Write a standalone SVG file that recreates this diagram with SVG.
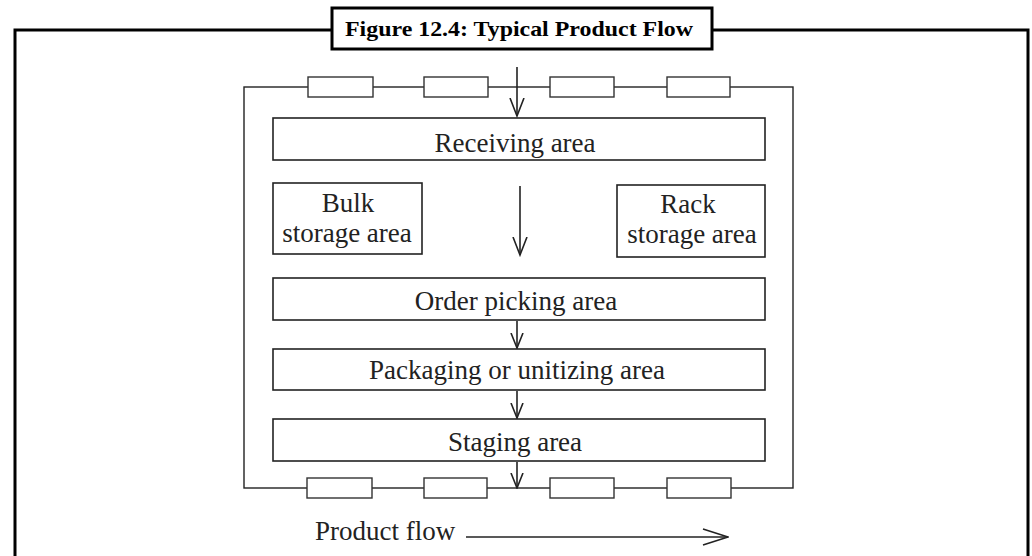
<svg xmlns="http://www.w3.org/2000/svg" width="1032" height="556" viewBox="0 0 1032 556">
<style>
.frame{fill:none;stroke:#000;stroke-width:3}
.box{fill:#fff;stroke:#222;stroke-width:1.6}
.dock{fill:#fff;stroke:#333;stroke-width:1.4}
.wall{fill:none;stroke:#222;stroke-width:1.4}
.lbl{font-family:"Liberation Serif","Times New Roman",serif;font-size:27px;fill:#222;text-anchor:middle}
.title{font-family:"Liberation Serif","Times New Roman",serif;font-weight:bold;font-size:21px;fill:#000;text-anchor:middle}
.conn{fill:none;stroke:#222;stroke-width:1.6}
</style>
<defs>
<marker id="ah" markerWidth="20" markerHeight="16" refX="18" refY="8" orient="auto" markerUnits="userSpaceOnUse" viewBox="0 0 20 16">
<path d="M0,1 L18,8 L0,15" fill="none" stroke="#222" stroke-width="1.6"/>
</marker>
<marker id="ahs" markerWidth="16" markerHeight="14" refX="15" refY="7" orient="auto" markerUnits="userSpaceOnUse" viewBox="0 0 16 14">
<path d="M0,1 L15,7 L0,13" fill="none" stroke="#222" stroke-width="1.6"/>
</marker>
<marker id="ahr" markerWidth="27" markerHeight="18" refX="26" refY="9" orient="auto" markerUnits="userSpaceOnUse" viewBox="0 0 27 18">
<path d="M1,1 L26,9 L1,17" fill="none" stroke="#222" stroke-width="1.6"/>
</marker>
</defs>
<rect width="1032" height="556" fill="#fff"/>
<g id="frame">
<path class="frame" d="M15,560 V30 H332 M712,30 H1028 V560"/>
</g>
<g id="title">
<rect x="332" y="8" width="380" height="41" fill="#fff" stroke="#000" stroke-width="3"/>
<text class="title" x="519" y="36" textLength="348" lengthAdjust="spacingAndGlyphs">Figure 12.4: Typical Product Flow</text>
</g>
<g id="warehouse">
<rect class="wall" x="244" y="87" width="549" height="401"/>
</g>
<g id="docks-top">
<rect class="dock" x="308" y="77" width="65" height="20"/>
<rect class="dock" x="424" y="77" width="64" height="20"/>
<rect class="dock" x="550" y="77" width="64" height="20"/>
<rect class="dock" x="667" y="77" width="63" height="20"/>
</g>
<g id="docks-bottom">
<rect class="dock" x="307" y="478" width="65" height="20"/>
<rect class="dock" x="424" y="478" width="63" height="20"/>
<rect class="dock" x="550" y="478" width="64" height="20"/>
<rect class="dock" x="667" y="478" width="64" height="20"/>
</g>
<g id="receiving">
<rect class="box" x="273" y="118" width="492" height="42"/>
<text class="lbl" x="515" y="152">Receiving area</text>
</g>
<g id="bulk">
<rect class="box" x="273" y="183" width="149" height="71"/>
<text class="lbl" x="348" y="212">Bulk</text>
<text class="lbl" x="347" y="242">storage area</text>
</g>
<g id="rack">
<rect class="box" x="617" y="185" width="148" height="72"/>
<text class="lbl" x="688" y="213">Rack</text>
<text class="lbl" x="692" y="243">storage area</text>
</g>
<g id="order">
<rect class="box" x="273" y="278" width="492" height="42"/>
<text class="lbl" x="516" y="310">Order picking area</text>
</g>
<g id="packaging">
<rect class="box" x="273" y="349" width="492" height="41"/>
<text class="lbl" x="517" y="379">Packaging or unitizing area</text>
</g>
<g id="staging">
<rect class="box" x="273" y="419" width="492" height="42"/>
<text class="lbl" x="515" y="451">Staging area</text>
</g>
<g id="connectors">
<line class="conn" x1="517" y1="67" x2="517" y2="116" marker-end="url(#ah)"/>
<line class="conn" x1="520" y1="186" x2="520" y2="255" marker-end="url(#ah)"/>
<line class="conn" x1="517" y1="321" x2="517" y2="348" marker-end="url(#ahs)"/>
<line class="conn" x1="517" y1="391" x2="517" y2="418" marker-end="url(#ahs)"/>
<line class="conn" x1="517" y1="462" x2="517" y2="488" marker-end="url(#ahs)"/>
<line class="conn" x1="466" y1="537" x2="728" y2="537" marker-end="url(#ahr)"/>
</g>
<g id="legend">
<text class="lbl" x="315" y="540" style="text-anchor:start">Product flow</text>
</g>
</svg>
